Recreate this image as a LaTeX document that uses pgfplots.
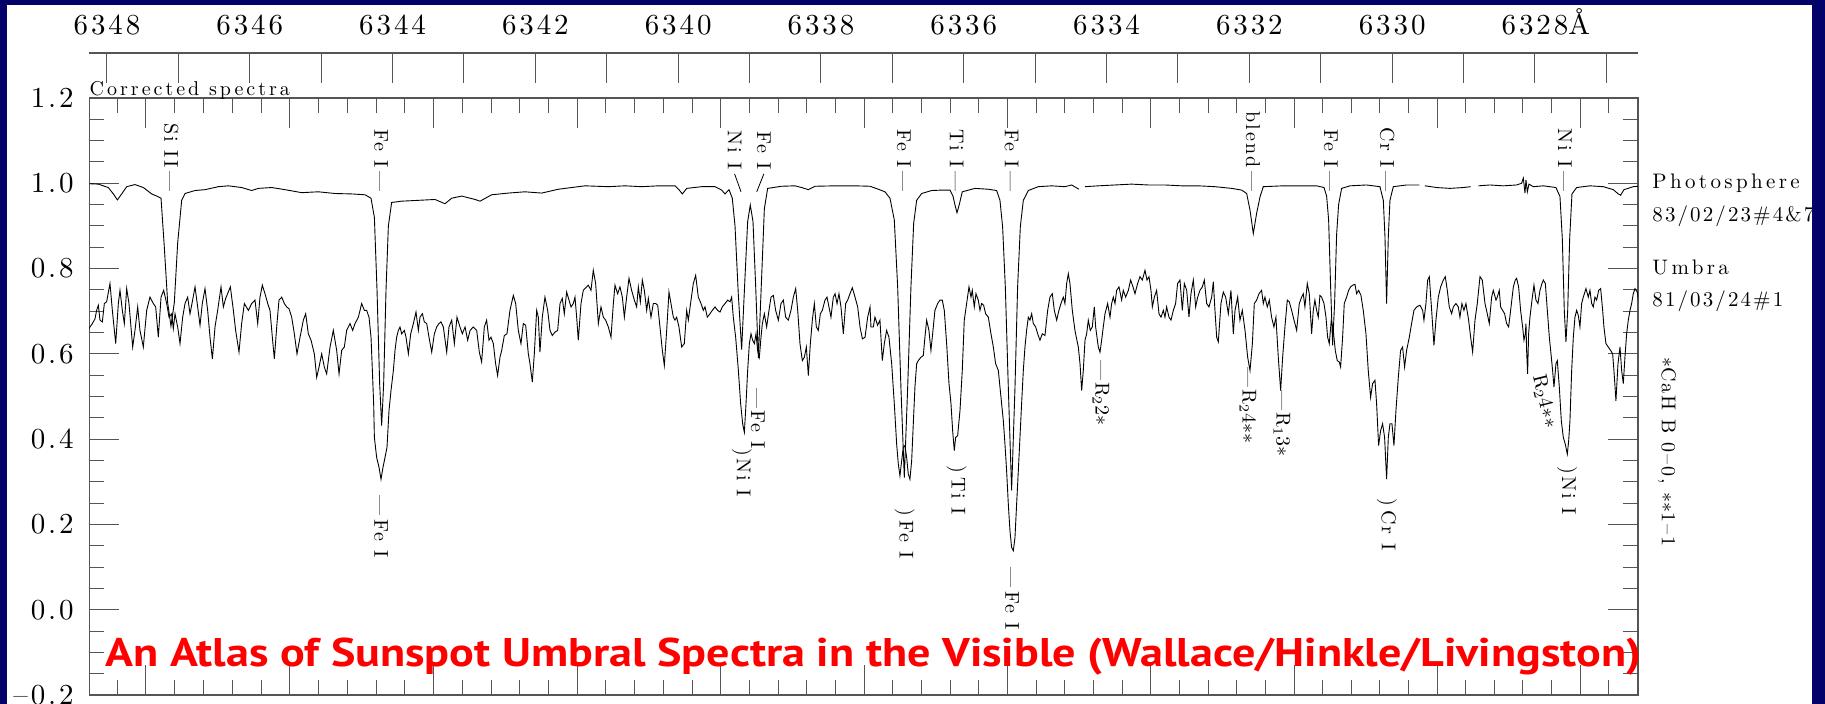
\documentclass[border=0pt]{standalone}
\usepackage{fontspec}
\usepackage{graphicx}
\usepackage{pgfplots}
\usepackage{pgfplotstable}
\pgfplotsset{compat=1.18}
\newfontfamily\titlefont{PT Sans}
\newfontfamily\hershey{lmroman10-regular.otf}[LetterSpace=10]
\newfontfamily\hersheyw{lmroman10-regular.otf}[LetterSpace=15]
\newfontfamily\hersheyx{lmroman10-regular.otf}[LetterSpace=16]
\definecolor{navy}{RGB}{2,2,104}
\definecolor{axgray}{RGB}{85,85,85}

\pgfplotstableread{
lam v
6348.260 0.999
6348.121 0.998
6347.981 0.990
6347.911 0.975
6347.855 0.961
6347.794 0.975
6347.724 0.992
6347.608 0.997
6347.491 0.990
6347.374 0.975
6347.304 0.970
6347.243 0.965
6347.197 0.850
6347.150 0.720
6347.104 0.665
6347.057 0.720
6347.010 0.860
6346.954 0.960
6346.907 0.976
6346.767 0.983
6346.627 0.985
6346.440 0.992
6346.300 0.994
6346.114 0.990
6345.974 0.983
6345.880 0.988
6345.693 0.990
6345.507 0.985
6345.273 0.978
6345.040 0.980
6344.806 0.976
6344.573 0.975
6344.386 0.973
6344.302 0.965
6344.255 0.920
6344.218 0.750
6344.181 0.530
6344.153 0.432
6344.125 0.530
6344.092 0.750
6344.059 0.900
6344.013 0.955
6343.873 0.958
6343.639 0.960
6343.406 0.962
6343.266 0.952
6343.172 0.965
6343.032 0.970
6342.845 0.962
6342.775 0.958
6342.613 0.973
6342.379 0.977
6342.146 0.980
6341.912 0.977
6341.679 0.986
6341.305 0.994
6340.978 0.992
6340.745 0.994
6340.512 0.992
6340.278 0.994
6340.045 0.994
6339.989 0.985
6339.942 0.975
6339.881 0.988
6339.671 0.992
6339.484 0.992
6339.391 0.984
6339.344 0.975
6339.288 0.985
6339.242 0.965
6339.204 0.900
6339.158 0.740
6339.111 0.610
6339.064 0.780
6339.027 0.910
6338.990 0.949
6338.952 0.910
6338.915 0.760
6338.877 0.590
6338.831 0.780
6338.793 0.940
6338.747 0.988
6338.550 0.993
6338.364 0.994
6338.270 0.990
6338.177 0.985
6338.084 0.993
6337.804 0.994
6337.524 0.994
6337.313 0.993
6337.197 0.986
6337.104 0.980
6337.034 0.965
6336.973 0.914
6336.926 0.757
6336.880 0.520
6336.833 0.310
6336.786 0.520
6336.740 0.757
6336.702 0.906
6336.660 0.960
6336.590 0.976
6336.450 0.983
6336.310 0.984
6336.193 0.984
6336.151 0.970
6336.123 0.949
6336.095 0.931
6336.063 0.950
6336.021 0.980
6335.843 0.988
6335.657 0.986
6335.540 0.983
6335.493 0.960
6335.456 0.898
6335.418 0.757
6335.376 0.520
6335.330 0.280
6335.283 0.520
6335.246 0.757
6335.208 0.898
6335.166 0.960
6335.096 0.983
6334.956 0.992
6334.769 0.994
6334.583 0.992
6334.489 0.996
6334.387 0.986
6334.350 nan
6334.302 0.992
6334.116 0.994
6333.882 0.996
6333.649 0.998
6333.415 0.996
6333.182 0.996
6332.948 0.994
6332.715 0.994
6332.482 0.992
6332.248 0.988
6332.108 0.984
6332.038 0.976
6331.991 0.937
6331.945 0.882
6331.898 0.930
6331.851 0.968
6331.805 0.992
6331.525 0.994
6331.292 0.994
6331.058 0.994
6330.955 0.990
6330.918 0.970
6330.890 0.914
6330.862 0.757
6330.834 0.620
6330.806 0.720
6330.778 0.880
6330.750 0.950
6330.708 0.988
6330.591 0.994
6330.358 0.996
6330.171 0.992
6330.124 0.960
6330.101 0.875
6330.078 0.718
6330.054 0.875
6330.031 0.960
6329.984 0.992
6329.798 0.996
6329.620 0.996
6329.580 nan
6329.541 0.994
6329.377 0.990
6329.191 0.988
6329.004 0.990
6328.901 0.992
6328.850 nan
6328.794 0.994
6328.630 0.996
6328.444 0.994
6328.257 0.996
6328.187 1.000
6328.163 1.012
6328.140 0.977
6328.126 1.008
6328.107 0.980
6328.084 0.998
6328.023 0.992
6327.883 0.994
6327.706 0.990
6327.650 0.969
6327.617 0.870
6327.589 0.700
6327.566 0.628
6327.542 0.700
6327.514 0.870
6327.482 0.975
6327.416 0.990
6327.230 0.994
6327.043 0.992
6326.903 0.985
6326.833 0.975
6326.800 0.972
6326.754 0.985
6326.623 0.992
6326.544 0.993
}\photo

\pgfplotstableread{
lam v
6348.260 0.655
6348.238 0.663
6348.205 0.671
6348.168 0.682
6348.145 0.702
6348.121 0.714
6348.098 0.679
6348.065 0.675
6348.037 0.718
6348.005 0.722
6347.958 0.765
6347.925 0.702
6347.878 0.624
6347.841 0.718
6347.818 0.749
6347.785 0.702
6347.757 0.671
6347.724 0.753
6347.692 0.718
6347.640 0.616
6347.608 0.655
6347.570 0.710
6347.538 0.655
6347.491 0.616
6347.444 0.702
6347.398 0.733
6347.351 0.718
6347.318 0.710
6347.281 0.639
6347.243 0.733
6347.206 0.749
6347.164 0.718
6347.131 0.686
6347.094 0.694
6347.071 0.659
6347.047 0.694
6347.010 0.663
6346.977 0.624
6346.940 0.686
6346.907 0.718
6346.870 0.733
6346.837 0.694
6346.805 0.722
6346.767 0.757
6346.730 0.710
6346.697 0.667
6346.665 0.718
6346.627 0.753
6346.590 0.702
6346.557 0.639
6346.524 0.588
6346.487 0.663
6346.450 0.702
6346.403 0.757
6346.370 0.710
6346.338 0.730
6346.272 0.757
6346.230 0.702
6346.198 0.655
6346.151 0.604
6346.114 0.671
6346.076 0.718
6346.020 0.702
6345.973 0.718
6345.927 0.726
6345.889 0.671
6345.857 0.733
6345.824 0.761
6345.787 0.741
6345.749 0.718
6345.717 0.702
6345.684 0.639
6345.656 0.588
6345.623 0.663
6345.591 0.726
6345.553 0.733
6345.516 0.718
6345.483 0.710
6345.451 0.706
6345.413 0.686
6345.376 0.647
6345.339 0.600
6345.296 0.639
6345.250 0.679
6345.217 0.694
6345.180 0.647
6345.142 0.632
6345.096 0.600
6345.063 0.545
6345.030 0.569
6344.993 0.600
6344.956 0.569
6344.923 0.553
6344.876 0.616
6344.830 0.655
6344.783 0.608
6344.750 0.553
6344.713 0.608
6344.676 0.616
6344.643 0.655
6344.596 0.671
6344.559 0.655
6344.526 0.671
6344.479 0.686
6344.433 0.718
6344.395 0.702
6344.363 0.702
6344.330 0.686
6344.302 0.639
6344.283 0.561
6344.265 0.483
6344.255 0.404
6344.223 0.357
6344.190 0.334
6344.162 0.306
6344.134 0.334
6344.106 0.357
6344.078 0.381
6344.050 0.467
6344.022 0.514
6343.989 0.561
6343.966 0.608
6343.943 0.639
6343.919 0.655
6343.896 0.663
6343.872 0.647
6343.835 0.655
6343.812 0.639
6343.779 0.600
6343.746 0.647
6343.709 0.671
6343.672 0.698
6343.639 0.655
6343.616 0.686
6343.583 0.694
6343.555 0.675
6343.522 0.671
6343.490 0.639
6343.452 0.604
6343.415 0.647
6343.382 0.663
6343.350 0.671
6343.322 0.675
6343.289 0.663
6343.242 0.604
6343.210 0.663
6343.172 0.679
6343.135 0.624
6343.098 0.686
6343.056 0.663
6343.023 0.647
6342.985 0.663
6342.948 0.632
6342.915 0.655
6342.869 0.663
6342.822 0.655
6342.785 0.604
6342.753 0.581
6342.715 0.663
6342.683 0.679
6342.650 0.632
6342.622 0.639
6342.589 0.624
6342.557 0.577
6342.529 0.549
6342.496 0.592
6342.472 0.608
6342.435 0.643
6342.398 0.647
6342.356 0.702
6342.309 0.737
6342.276 0.718
6342.239 0.655
6342.202 0.624
6342.169 0.671
6342.136 0.667
6342.099 0.600
6342.076 0.577
6342.043 0.534
6342.015 0.600
6341.982 0.702
6341.959 0.686
6341.936 0.604
6341.903 0.686
6341.866 0.733
6341.828 0.702
6341.795 0.655
6341.763 0.643
6341.725 0.651
6341.688 0.655
6341.655 0.718
6341.623 0.730
6341.595 0.694
6341.562 0.745
6341.529 0.726
6341.501 0.710
6341.469 0.718
6341.445 0.733
6341.422 0.686
6341.399 0.632
6341.361 0.718
6341.329 0.749
6341.282 0.757
6341.259 0.761
6341.221 0.749
6341.189 0.796
6341.156 0.765
6341.118 0.671
6341.081 0.710
6341.048 0.686
6341.016 0.679
6340.978 0.663
6340.941 0.639
6340.908 0.718
6340.885 0.761
6340.848 0.741
6340.815 0.757
6340.782 0.733
6340.754 0.686
6340.722 0.733
6340.689 0.777
6340.652 0.749
6340.614 0.726
6340.582 0.710
6340.558 0.757
6340.530 0.722
6340.502 0.773
6340.474 0.749
6340.441 0.702
6340.418 0.730
6340.381 0.686
6340.348 0.718
6340.315 0.718
6340.287 0.714
6340.255 0.663
6340.222 0.608
6340.194 0.573
6340.161 0.655
6340.129 0.745
6340.101 0.718
6340.068 0.686
6340.045 0.679
6340.021 0.686
6339.989 0.663
6339.951 0.616
6339.914 0.624
6339.881 0.702
6339.858 0.679
6339.820 0.726
6339.788 0.765
6339.755 0.784
6339.718 0.733
6339.680 0.718
6339.648 0.702
6339.624 0.710
6339.592 0.686
6339.554 0.694
6339.522 0.702
6339.484 0.710
6339.447 0.702
6339.414 0.698
6339.382 0.710
6339.344 0.718
6339.307 0.726
6339.274 0.722
6339.251 0.733
6339.228 0.686
6339.195 0.639
6339.157 0.561
6339.125 0.483
6339.097 0.436
6339.073 0.416
6339.050 0.483
6339.027 0.561
6339.003 0.624
6338.980 0.647
6338.957 0.632
6338.933 0.624
6338.910 0.647
6338.887 0.608
6338.863 0.592
6338.840 0.639
6338.821 0.671
6338.793 0.694
6338.761 0.663
6338.728 0.702
6338.700 0.733
6338.667 0.737
6338.635 0.702
6338.597 0.679
6338.560 0.718
6338.527 0.726
6338.495 0.686
6338.457 0.679
6338.420 0.702
6338.387 0.733
6338.354 0.753
6338.326 0.702
6338.294 0.624
6338.261 0.584
6338.233 0.592
6338.205 0.616
6338.177 0.549
6338.149 0.624
6338.121 0.679
6338.093 0.718
6338.065 0.663
6338.037 0.655
6338.009 0.694
6337.981 0.702
6337.944 0.726
6337.916 0.733
6337.888 0.710
6337.860 0.686
6337.827 0.733
6337.803 0.741
6337.775 0.718
6337.748 0.741
6337.720 0.710
6337.687 0.647
6337.654 0.718
6337.626 0.726
6337.594 0.741
6337.561 0.755
6337.523 0.733
6337.486 0.710
6337.453 0.663
6337.420 0.635
6337.383 0.639
6337.346 0.686
6337.313 0.710
6337.300 0.663
6337.267 0.663
6337.244 0.686
6337.207 0.667
6337.174 0.679
6337.141 0.584
6337.113 0.624
6337.081 0.655
6337.048 0.639
6337.010 0.577
6336.973 0.483
6336.940 0.388
6336.917 0.342
6336.894 0.314
6336.870 0.349
6336.847 0.381
6336.824 0.385
6336.800 0.357
6336.777 0.318
6336.754 0.306
6336.730 0.349
6336.707 0.436
6336.684 0.522
6336.660 0.577
6336.637 0.584
6336.600 0.592
6336.567 0.596
6336.544 0.639
6336.520 0.679
6336.488 0.655
6336.460 0.608
6336.436 0.647
6336.404 0.702
6336.366 0.718
6336.333 0.726
6336.301 0.726
6336.273 0.702
6336.240 0.624
6336.207 0.530
6336.179 0.483
6336.156 0.420
6336.133 0.373
6336.114 0.404
6336.086 0.408
6336.053 0.467
6336.021 0.561
6335.993 0.679
6335.960 0.718
6335.927 0.757
6335.899 0.733
6335.881 0.749
6335.853 0.710
6335.829 0.741
6335.797 0.726
6335.773 0.702
6335.750 0.718
6335.722 0.714
6335.694 0.694
6335.656 0.686
6335.619 0.647
6335.586 0.616
6335.554 0.577
6335.516 0.561
6335.493 0.522
6335.470 0.483
6335.446 0.443
6335.423 0.388
6335.400 0.326
6335.376 0.247
6335.353 0.185
6335.330 0.146
6335.306 0.138
6335.283 0.169
6335.260 0.247
6335.236 0.326
6335.213 0.404
6335.190 0.483
6335.166 0.561
6335.143 0.616
6335.120 0.655
6335.096 0.686
6335.073 0.679
6335.049 0.694
6335.026 0.671
6334.993 0.663
6334.965 0.647
6334.933 0.632
6334.900 0.647
6334.863 0.643
6334.825 0.702
6334.793 0.733
6334.760 0.741
6334.732 0.702
6334.699 0.679
6334.667 0.702
6334.639 0.718
6334.606 0.733
6334.583 0.718
6334.559 0.765
6334.536 0.788
6334.513 0.765
6334.480 0.702
6334.443 0.655
6334.396 0.616
6334.372 0.577
6334.349 0.514
6334.326 0.561
6334.302 0.632
6334.279 0.647
6334.256 0.679
6334.228 0.655
6334.200 0.663
6334.172 0.710
6334.153 0.663
6334.116 0.616
6334.092 0.604
6334.069 0.632
6334.046 0.663
6334.022 0.694
6333.985 0.718
6333.952 0.686
6333.929 0.718
6333.906 0.733
6333.882 0.718
6333.859 0.749
6333.826 0.757
6333.789 0.726
6333.766 0.749
6333.733 0.733
6333.695 0.749
6333.663 0.773
6333.630 0.757
6333.602 0.741
6333.565 0.765
6333.532 0.781
6333.499 0.773
6333.462 0.796
6333.434 0.773
6333.406 0.781
6333.378 0.749
6333.359 0.710
6333.331 0.733
6333.299 0.749
6333.266 0.694
6333.238 0.686
6333.205 0.702
6333.182 0.686
6333.159 0.710
6333.126 0.686
6333.098 0.679
6333.065 0.702
6333.033 0.718
6333.005 0.765
6332.972 0.773
6332.939 0.702
6332.911 0.765
6332.878 0.749
6332.846 0.686
6332.818 0.741
6332.785 0.773
6332.752 0.710
6332.724 0.733
6332.692 0.749
6332.659 0.757
6332.631 0.773
6332.598 0.718
6332.566 0.710
6332.528 0.733
6332.505 0.769
6332.482 0.702
6332.458 0.639
6332.435 0.628
6332.398 0.718
6332.365 0.745
6332.332 0.733
6332.295 0.694
6332.258 0.749
6332.225 0.647
6332.201 0.702
6332.164 0.733
6332.132 0.679
6332.099 0.702
6332.061 0.655
6332.024 0.592
6331.991 0.561
6331.958 0.624
6331.931 0.718
6331.898 0.726
6331.865 0.741
6331.829 0.749
6331.805 0.718
6331.782 0.733
6331.749 0.710
6331.721 0.726
6331.689 0.686
6331.656 0.663
6331.628 0.686
6331.595 0.592
6331.562 0.514
6331.534 0.592
6331.502 0.663
6331.469 0.726
6331.441 0.722
6331.408 0.702
6331.385 0.686
6331.362 0.671
6331.338 0.655
6331.301 0.718
6331.268 0.733
6331.245 0.741
6331.222 0.710
6331.189 0.765
6331.161 0.741
6331.128 0.647
6331.105 0.702
6331.082 0.726
6331.058 0.702
6331.035 0.686
6331.012 0.737
6330.988 0.733
6330.955 0.718
6330.927 0.686
6330.904 0.639
6330.881 0.624
6330.853 0.679
6330.825 0.655
6330.797 0.608
6330.769 0.584
6330.741 0.581
6330.722 0.569
6330.694 0.639
6330.671 0.718
6330.638 0.733
6330.610 0.749
6330.582 0.757
6330.554 0.761
6330.521 0.763
6330.498 0.741
6330.470 0.749
6330.437 0.737
6330.405 0.702
6330.367 0.647
6330.335 0.561
6330.302 0.498
6330.274 0.530
6330.241 0.538
6330.218 0.483
6330.190 0.385
6330.162 0.420
6330.134 0.436
6330.106 0.404
6330.078 0.306
6330.054 0.404
6330.031 0.436
6330.003 0.436
6329.975 0.385
6329.947 0.467
6329.914 0.545
6329.882 0.608
6329.854 0.616
6329.826 0.569
6329.798 0.608
6329.760 0.639
6329.728 0.671
6329.695 0.702
6329.657 0.710
6329.611 0.714
6329.573 0.702
6329.555 0.679
6329.527 0.718
6329.503 0.773
6329.480 0.781
6329.447 0.702
6329.415 0.620
6329.387 0.679
6329.354 0.733
6329.321 0.757
6329.284 0.773
6329.256 0.781
6329.228 0.749
6329.200 0.710
6329.167 0.694
6329.144 0.710
6329.107 0.718
6329.074 0.710
6329.051 0.686
6329.023 0.718
6328.995 0.702
6328.967 0.718
6328.929 0.679
6328.901 0.639
6328.873 0.604
6328.840 0.679
6328.808 0.718
6328.770 0.781
6328.738 0.773
6328.700 0.718
6328.668 0.694
6328.640 0.671
6328.607 0.733
6328.584 0.749
6328.546 0.726
6328.528 0.733
6328.500 0.749
6328.481 0.710
6328.453 0.702
6328.425 0.694
6328.397 0.671
6328.369 0.663
6328.341 0.702
6328.303 0.757
6328.276 0.773
6328.257 0.777
6328.229 0.757
6328.201 0.702
6328.173 0.663
6328.154 0.632
6328.135 0.647
6328.126 0.671
6328.117 0.608
6328.103 0.553
6328.089 0.647
6328.070 0.686
6328.042 0.726
6328.014 0.761
6327.986 0.726
6327.958 0.718
6327.930 0.749
6327.902 0.765
6327.883 0.773
6327.855 0.765
6327.827 0.702
6327.799 0.639
6327.771 0.592
6327.753 0.561
6327.734 0.522
6327.706 0.577
6327.687 0.584
6327.659 0.522
6327.631 0.443
6327.603 0.404
6327.575 0.388
6327.547 0.365
6327.528 0.396
6327.510 0.443
6327.486 0.561
6327.463 0.639
6327.440 0.686
6327.416 0.702
6327.393 0.690
6327.370 0.663
6327.346 0.718
6327.323 0.733
6327.286 0.753
6327.253 0.733
6327.230 0.749
6327.206 0.718
6327.183 0.710
6327.160 0.733
6327.136 0.726
6327.108 0.749
6327.080 0.753
6327.052 0.702
6327.034 0.663
6327.006 0.624
6326.973 0.616
6326.940 0.608
6326.912 0.600
6326.894 0.561
6326.866 0.490
6326.837 0.577
6326.809 0.616
6326.786 0.561
6326.763 0.530
6326.740 0.592
6326.716 0.647
6326.693 0.679
6326.669 0.702
6326.646 0.718
6326.623 0.741
6326.599 0.753
6326.567 0.745
6326.539 0.710
}\umbra

\tikzset{
  hers/.style={inner sep=0pt, font={\hershey\fontsize{10}{12}\selectfont}},
  up/.style={hers, rotate=-90, anchor=east},
  dn/.style={hers, rotate=-90, anchor=west},
}

\begin{document}
\begin{tikzpicture}[x=1pt,y=1pt]
\useasboundingbox (0,0) rectangle (912.5,352);
\fill[white] (0,0) rectangle (912.5,352);

% upper wavelength scale
\begin{axis}[
  at={(44.65pt,325.5pt)}, anchor=north west,
  scale only axis, width=774.35pt, height=20pt,
  xmin=6326.557, xmax=6348.248, x dir=reverse,
  ymin=0, ymax=1,
  hide y axis,
  axis x line*=top,
  axis line style={axgray, line width=0.6pt, -},
  xtick={6327,6328,...,6348},
  xticklabels={,6328\rlap{Å},,6330,,6332,,6334,,6336,,6338,,6340,,6342,,6344,,6346,,6348},
  minor x tick num=4,
  xtick align=inside,
  xticklabel pos=right,
  major tick length=15pt, minor tick length=9.5pt,
  every tick/.append style={axgray, line width=0.5pt},
  xticklabel style={font=\hershey\fontsize{14.5}{16}\selectfont, yshift=5.3pt},
]
\addplot[draw=none] coordinates {(6340,0.5)};
\end{axis}

% main spectrum frame
\begin{axis}[
  at={(44.65pt,4.5pt)}, anchor=south west,
  scale only axis, width=774.35pt, height=298.5pt,
  xmin=6326.557, xmax=6348.248, x dir=reverse,
  ymin=-0.2, ymax=1.2,
  axis line style={axgray, line width=0.6pt},
  xtick={6347.454,6345.439,6343.426,6341.414,6339.404,6337.394,6335.386,6333.380,6331.375,6329.372,6327.368},
  minor xtick={6347.857,6347.051,6346.648,6346.245,6345.842,6345.037,6344.634,6344.231,6343.829,6343.024,6342.621,6342.219,6341.816,6341.012,6340.609,6340.207,6339.805,6339.002,6338.600,6338.198,6337.796,6336.992,6336.591,6336.189,6335.788,6334.985,6334.583,6334.182,6333.781,6332.979,6332.578,6332.177,6331.776,6330.974,6330.574,6330.173,6329.772,6328.971,6328.570,6328.170,6327.769,6326.967},
  xticklabel=\empty,
  ytick={-0.2,0,0.2,0.4,0.6,0.8,1.0,1.2},
  yticklabels={–0.2,0.0,0.2,0.4,0.6,0.8,1.0,1.2},
  minor y tick num=3,
  major tick length=15pt, minor tick length=7.5pt,
  every tick/.append style={axgray, line width=0.5pt},
  yticklabel style={font=\hershey\fontsize{14.5}{16}\selectfont, xshift=-4.3pt},
  clip mode=individual,
  unbounded coords=jump,
]
\addplot[black, line width=0.45pt] table[x=lam, y=v] {\photo};
\addplot[black, line width=0.45pt] table[x=lam, y=v] {\umbra};

% photosphere line identifications
\node[up] at (axis cs:6347.10,0.980) {Si II\kern2pt—};
\node[up] at (axis cs:6344.16,0.980) {Fe I\kern2pt—};
\node[up] at (axis cs:6339.21,1.032) {Ni I};
\draw[black, line width=0.4pt] (axis cs:6339.21,1.022) -- (axis cs:6339.12,0.980);
\node[up] at (axis cs:6338.80,1.032) {Fe I};
\draw[black, line width=0.4pt] (axis cs:6338.80,1.022) -- (axis cs:6338.90,0.980);
\node[up] at (axis cs:6336.84,0.980) {Fe I\kern2pt—};
\node[up] at (axis cs:6336.10,0.980) {Ti I\kern2pt—};
\node[up] at (axis cs:6335.33,0.980) {Fe I\kern2pt—};
\node[up] at (axis cs:6331.95,0.980) {blend\kern2pt—};
\node[up] at (axis cs:6330.86,0.980) {Fe I\kern2pt—};
\node[up] at (axis cs:6330.07,0.980) {Cr I\kern2pt—};
\node[up] at (axis cs:6327.58,0.980) {Ni I\kern2pt—};

% umbra line identifications
\node[dn] at (axis cs:6344.16,0.269) {—\kern2pt Fe I};
\node[dn] at (axis cs:6339.107,0.379) {)Ni I};
\node[dn] at (axis cs:6338.883,0.520) {—Fe I};
\node[dn] at (axis cs:6336.83,0.238) {)\kern2pt Fe I};
\node[dn] at (axis cs:6336.10,0.339) {)\kern2pt Ti I};
\node[dn] at (axis cs:6335.325,0.100) {—\kern2pt Fe I};
\node[dn] at (axis cs:6334.079,0.586) {—R$_2$2$*$};
\node[dn] at (axis cs:6332.02,0.569) {—R$_2$4$**$};
\node[dn] at (axis cs:6331.544,0.515) {—R$_1$3$*$};
\node[dn] at (axis cs:6330.073,0.262) {)\kern2pt Cr I};
\node[hers, rotate=-76, anchor=west] at (axis cs:6327.96,0.550) {R$_2$4$**$};
\node[dn] at (axis cs:6327.55,0.336) {)Ni I};
\end{axis}

% texts around the frame
\node[inner sep=0pt, anchor=base west, font={\hersheyw\fontsize{10}{12}\selectfont}] at (44.65,304) {Corrected spectra};
\begin{scope}[every node/.style={inner sep=0pt, anchor=base west}]
\node[font={\hersheyx\fontsize{10.5}{12}\selectfont}] at (826,257.5) {Photosphere};
\node[font={\hershey\fontsize{10.5}{12}\selectfont}] at (826,241) {83/02/23\#4\&7};
\node[font={\hersheyx\fontsize{10.5}{12}\selectfont}] at (826,214.5) {Umbra};
\node[font={\hershey\fontsize{10.5}{12}\selectfont}] at (826,198.5) {81/03/24\#1};
\end{scope}
\node[hers, rotate=-90, anchor=west] at (833.5,173.5) {$*$CaH B 0–0, $**$1–1};

\node[inner sep=0pt, anchor=base west, text=red, font={\titlefont\bfseries\fontsize{20}{24}\selectfont}] at (52.5,18.5)
  {\resizebox{768pt}{\height}{An Atlas of Sunspot Umbral Spectra in the Visible (Wallace/Hinkle/Livingston)}};

% slide border
\fill[navy] (0,0) rectangle (3.5,352);
\fill[navy] (0,349.5) rectangle (912.5,352);
\fill[navy] (906,0) rectangle (912.5,352);
\end{tikzpicture}
\end{document}
